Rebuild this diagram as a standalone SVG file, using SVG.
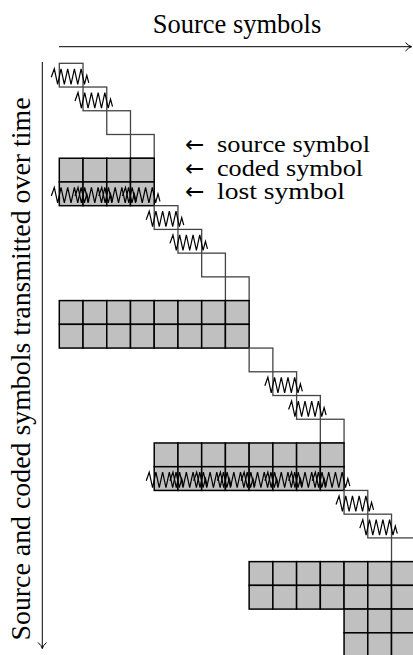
<svg xmlns="http://www.w3.org/2000/svg" xmlns:xlink="http://www.w3.org/1999/xlink" width="413" height="655" viewBox="0 0 413 655">
<style>
.t{font-family:"Liberation Serif","Times New Roman",serif;font-size:26px;fill:#000}
.lg{font-size:23px}
.ar{font-family:"DejaVu Sans",sans-serif;font-size:23px}
.s{fill:#fff;stroke:#444;stroke-width:1.3}
.c{fill:#c0c0c0;stroke:#000;stroke-width:1.5}
.z{fill:none;stroke:#000;stroke-width:1.2;stroke-linejoin:miter}
.ax{fill:none;stroke:#000;stroke-width:1}
</style>
<defs>
<rect id="sq" width="23.73" height="23.73"/>
<path id="zz" d="M-8,14 L-5,5.5 L-1.65,21 L1.7,5.5 L5.05,21 L8.4,5.5 L11.75,21 L15.1,5.5 L18.45,21 L21.8,5.5 L25.15,21 L27.5,12 L29.5,19.5"/>
</defs>
<g id="axes">
<text class="t" x="237" y="33" text-anchor="middle" style="font-size:26.5px">Source symbols</text>
<path class="ax" d="M59,46.7 L411.5,46.7 M405.5,42.5 Q408.5,46 411.5,46.7 Q408.5,47.5 405.5,51"/>
<text class="t" transform="translate(30,369) rotate(-90)" text-anchor="middle" style="font-size:27px" textLength="543" lengthAdjust="spacingAndGlyphs">Source and coded symbols transmitted over time</text>
<path class="ax" d="M42.3,62 L42.3,648.5 M38.1,642.5 Q41.6,645.5 42.3,648.5 Q43,645.5 46.5,642.5"/>
</g>
<g id="legend">
<text class="t ar" x="185" y="152">←</text>
<text class="t lg" x="217" y="152" textLength="153" lengthAdjust="spacingAndGlyphs">source symbol</text>
<text class="t ar" x="185" y="175.5">←</text>
<text class="t lg" x="217" y="175.5" textLength="146" lengthAdjust="spacingAndGlyphs">coded symbol</text>
<text class="t ar" x="185" y="199">←</text>
<text class="t lg" x="217" y="199" textLength="128" lengthAdjust="spacingAndGlyphs">lost symbol</text>
</g>
<g id="block1" transform="translate(59.3,63.3)">
<use xlink:href="#sq" class="s" x="0" y="0"/>
<use xlink:href="#sq" class="s" x="23.73" y="23.73"/>
<use xlink:href="#sq" class="s" x="47.46" y="47.46"/>
<use xlink:href="#sq" class="s" x="71.19" y="71.19"/>
<use xlink:href="#sq" class="c" x="0" y="94.92"/>
<use xlink:href="#sq" class="c" x="23.73" y="94.92"/>
<use xlink:href="#sq" class="c" x="47.46" y="94.92"/>
<use xlink:href="#sq" class="c" x="71.19" y="94.92"/>
<use xlink:href="#sq" class="c" x="0" y="118.65"/>
<use xlink:href="#sq" class="c" x="23.73" y="118.65"/>
<use xlink:href="#sq" class="c" x="47.46" y="118.65"/>
<use xlink:href="#sq" class="c" x="71.19" y="118.65"/>
<use xlink:href="#zz" class="z" x="0" y="0"/>
<use xlink:href="#zz" class="z" x="23.73" y="23.73"/>
<use xlink:href="#zz" class="z" x="0" y="118.65"/>
<use xlink:href="#zz" class="z" x="23.73" y="118.65"/>
<use xlink:href="#zz" class="z" x="47.46" y="118.65"/>
<use xlink:href="#zz" class="z" x="71.19" y="118.65"/>
</g>
<g id="block2" transform="translate(59.3,63.3)">
<use xlink:href="#sq" class="s" x="94.92" y="142.38"/>
<use xlink:href="#sq" class="s" x="118.65" y="166.11"/>
<use xlink:href="#sq" class="s" x="142.38" y="189.84"/>
<use xlink:href="#sq" class="s" x="166.11" y="213.57"/>
<use xlink:href="#sq" class="c" x="0" y="237.3"/>
<use xlink:href="#sq" class="c" x="23.73" y="237.3"/>
<use xlink:href="#sq" class="c" x="47.46" y="237.3"/>
<use xlink:href="#sq" class="c" x="71.19" y="237.3"/>
<use xlink:href="#sq" class="c" x="94.92" y="237.3"/>
<use xlink:href="#sq" class="c" x="118.65" y="237.3"/>
<use xlink:href="#sq" class="c" x="142.38" y="237.3"/>
<use xlink:href="#sq" class="c" x="166.11" y="237.3"/>
<use xlink:href="#sq" class="c" x="0" y="261.03"/>
<use xlink:href="#sq" class="c" x="23.73" y="261.03"/>
<use xlink:href="#sq" class="c" x="47.46" y="261.03"/>
<use xlink:href="#sq" class="c" x="71.19" y="261.03"/>
<use xlink:href="#sq" class="c" x="94.92" y="261.03"/>
<use xlink:href="#sq" class="c" x="118.65" y="261.03"/>
<use xlink:href="#sq" class="c" x="142.38" y="261.03"/>
<use xlink:href="#sq" class="c" x="166.11" y="261.03"/>
<use xlink:href="#zz" class="z" x="94.92" y="142.38"/>
<use xlink:href="#zz" class="z" x="118.65" y="166.11"/>
</g>
<g id="block3" transform="translate(59.3,63.3)">
<use xlink:href="#sq" class="s" x="189.84" y="284.76"/>
<use xlink:href="#sq" class="s" x="213.57" y="308.49"/>
<use xlink:href="#sq" class="s" x="237.3" y="332.22"/>
<use xlink:href="#sq" class="s" x="261.03" y="355.95"/>
<use xlink:href="#sq" class="c" x="94.92" y="379.68"/>
<use xlink:href="#sq" class="c" x="118.65" y="379.68"/>
<use xlink:href="#sq" class="c" x="142.38" y="379.68"/>
<use xlink:href="#sq" class="c" x="166.11" y="379.68"/>
<use xlink:href="#sq" class="c" x="189.84" y="379.68"/>
<use xlink:href="#sq" class="c" x="213.57" y="379.68"/>
<use xlink:href="#sq" class="c" x="237.3" y="379.68"/>
<use xlink:href="#sq" class="c" x="261.03" y="379.68"/>
<use xlink:href="#sq" class="c" x="94.92" y="403.41"/>
<use xlink:href="#sq" class="c" x="118.65" y="403.41"/>
<use xlink:href="#sq" class="c" x="142.38" y="403.41"/>
<use xlink:href="#sq" class="c" x="166.11" y="403.41"/>
<use xlink:href="#sq" class="c" x="189.84" y="403.41"/>
<use xlink:href="#sq" class="c" x="213.57" y="403.41"/>
<use xlink:href="#sq" class="c" x="237.3" y="403.41"/>
<use xlink:href="#sq" class="c" x="261.03" y="403.41"/>
<use xlink:href="#zz" class="z" x="213.57" y="308.49"/>
<use xlink:href="#zz" class="z" x="237.3" y="332.22"/>
<use xlink:href="#zz" class="z" x="94.92" y="403.41"/>
<use xlink:href="#zz" class="z" x="118.65" y="403.41"/>
<use xlink:href="#zz" class="z" x="142.38" y="403.41"/>
<use xlink:href="#zz" class="z" x="166.11" y="403.41"/>
<use xlink:href="#zz" class="z" x="189.84" y="403.41"/>
<use xlink:href="#zz" class="z" x="213.57" y="403.41"/>
<use xlink:href="#zz" class="z" x="237.3" y="403.41"/>
<use xlink:href="#zz" class="z" x="261.03" y="403.41"/>
</g>
<g id="block4" transform="translate(59.3,63.3)">
<use xlink:href="#sq" class="s" x="284.76" y="427.14"/>
<use xlink:href="#sq" class="s" x="308.49" y="450.87"/>
<use xlink:href="#sq" class="s" x="332.22" y="474.6"/>
<use xlink:href="#sq" class="c" x="189.84" y="498.33"/>
<use xlink:href="#sq" class="c" x="213.57" y="498.33"/>
<use xlink:href="#sq" class="c" x="237.3" y="498.33"/>
<use xlink:href="#sq" class="c" x="261.03" y="498.33"/>
<use xlink:href="#sq" class="c" x="284.76" y="498.33"/>
<use xlink:href="#sq" class="c" x="308.49" y="498.33"/>
<use xlink:href="#sq" class="c" x="332.22" y="498.33"/>
<use xlink:href="#sq" class="c" x="189.84" y="522.06"/>
<use xlink:href="#sq" class="c" x="213.57" y="522.06"/>
<use xlink:href="#sq" class="c" x="237.3" y="522.06"/>
<use xlink:href="#sq" class="c" x="261.03" y="522.06"/>
<use xlink:href="#sq" class="c" x="284.76" y="522.06"/>
<use xlink:href="#sq" class="c" x="308.49" y="522.06"/>
<use xlink:href="#sq" class="c" x="332.22" y="522.06"/>
<use xlink:href="#sq" class="c" x="284.76" y="545.79"/>
<use xlink:href="#sq" class="c" x="308.49" y="545.79"/>
<use xlink:href="#sq" class="c" x="332.22" y="545.79"/>
<use xlink:href="#sq" class="c" x="284.76" y="569.52"/>
<use xlink:href="#sq" class="c" x="308.49" y="569.52"/>
<use xlink:href="#sq" class="c" x="332.22" y="569.52"/>
<use xlink:href="#zz" class="z" x="284.76" y="427.14"/>
<use xlink:href="#zz" class="z" x="308.49" y="450.87"/>
</g>
</svg>
